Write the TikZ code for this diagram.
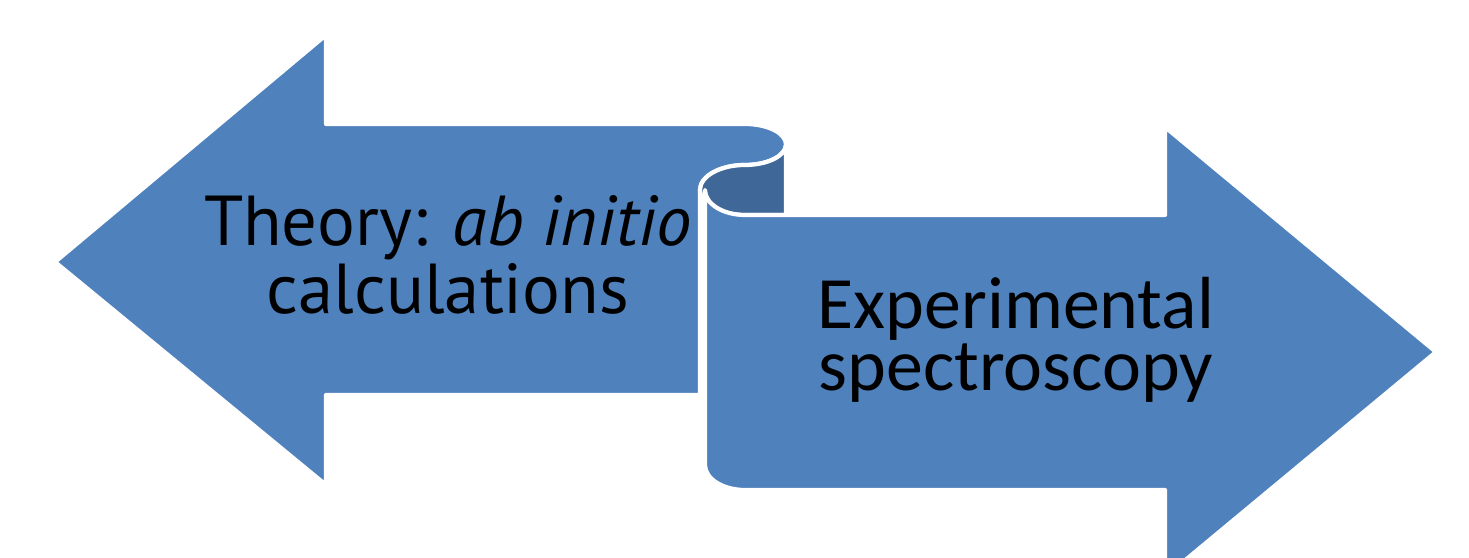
\documentclass[tikz,border=0pt]{standalone}
\usepackage{fontspec}
\setmainfont{Carlito}
\newfontfamily\theoryfont{PT Sans}
\definecolor{arrowblue}{RGB}{79,129,189}
\definecolor{curlblue}{RGB}{63,103,151}
\begin{document}
\begin{tikzpicture}[
        x=0.01cm, y=0.01cm,
        arrowbody/.style={fill=arrowblue, draw=white, line width=1.2pt, line join=round},
        foldside/.style={fill=curlblue, draw=white, line width=1.2pt},
        every node/.style={align=center, text=black, inner sep=0pt}
    ]
        \useasboundingbox (0,0) rectangle (1469,558);
        \clip (0,0) rectangle (1469,558);

        \draw[arrowbody] (55,296) -- (326,523) -- (326,434) -- (745,434)
            arc[start angle=90, end angle=-90, x radius=41, y radius=20.5]
            arc[start angle=90, end angle=180, x radius=45, y radius=25]
            -- (700,163) -- (326,163) -- (326,73) -- cycle;
        \draw[foldside] (786,413.5)
            arc[start angle=0, end angle=-90, x radius=41, y radius=20.5]
            arc[start angle=90, end angle=270, x radius=45, y radius=25]
            -- (786,343) -- cycle;
        \draw[arrowbody] (705,368) -- (705,93)
            arc[start angle=180, end angle=270, x radius=40, y radius=25]
            -- (1165,68) -- (1165,-19) -- (1436,206) -- (1165,431) -- (1165,343) -- (745,343)
            arc[start angle=270, end angle=180, x radius=40, y radius=25] -- cycle;

        \node[font=\theoryfont\fontsize{20.1pt}{18.3pt}\selectfont] (theory) at (448,303) {Theory: \textit{ab initio}\\calculations};
        \node[font=\fontsize{21pt}{17.8pt}\selectfont] (experiment) at (1016,218) {Experimental\\spectroscopy};
    \end{tikzpicture}
\end{document}
